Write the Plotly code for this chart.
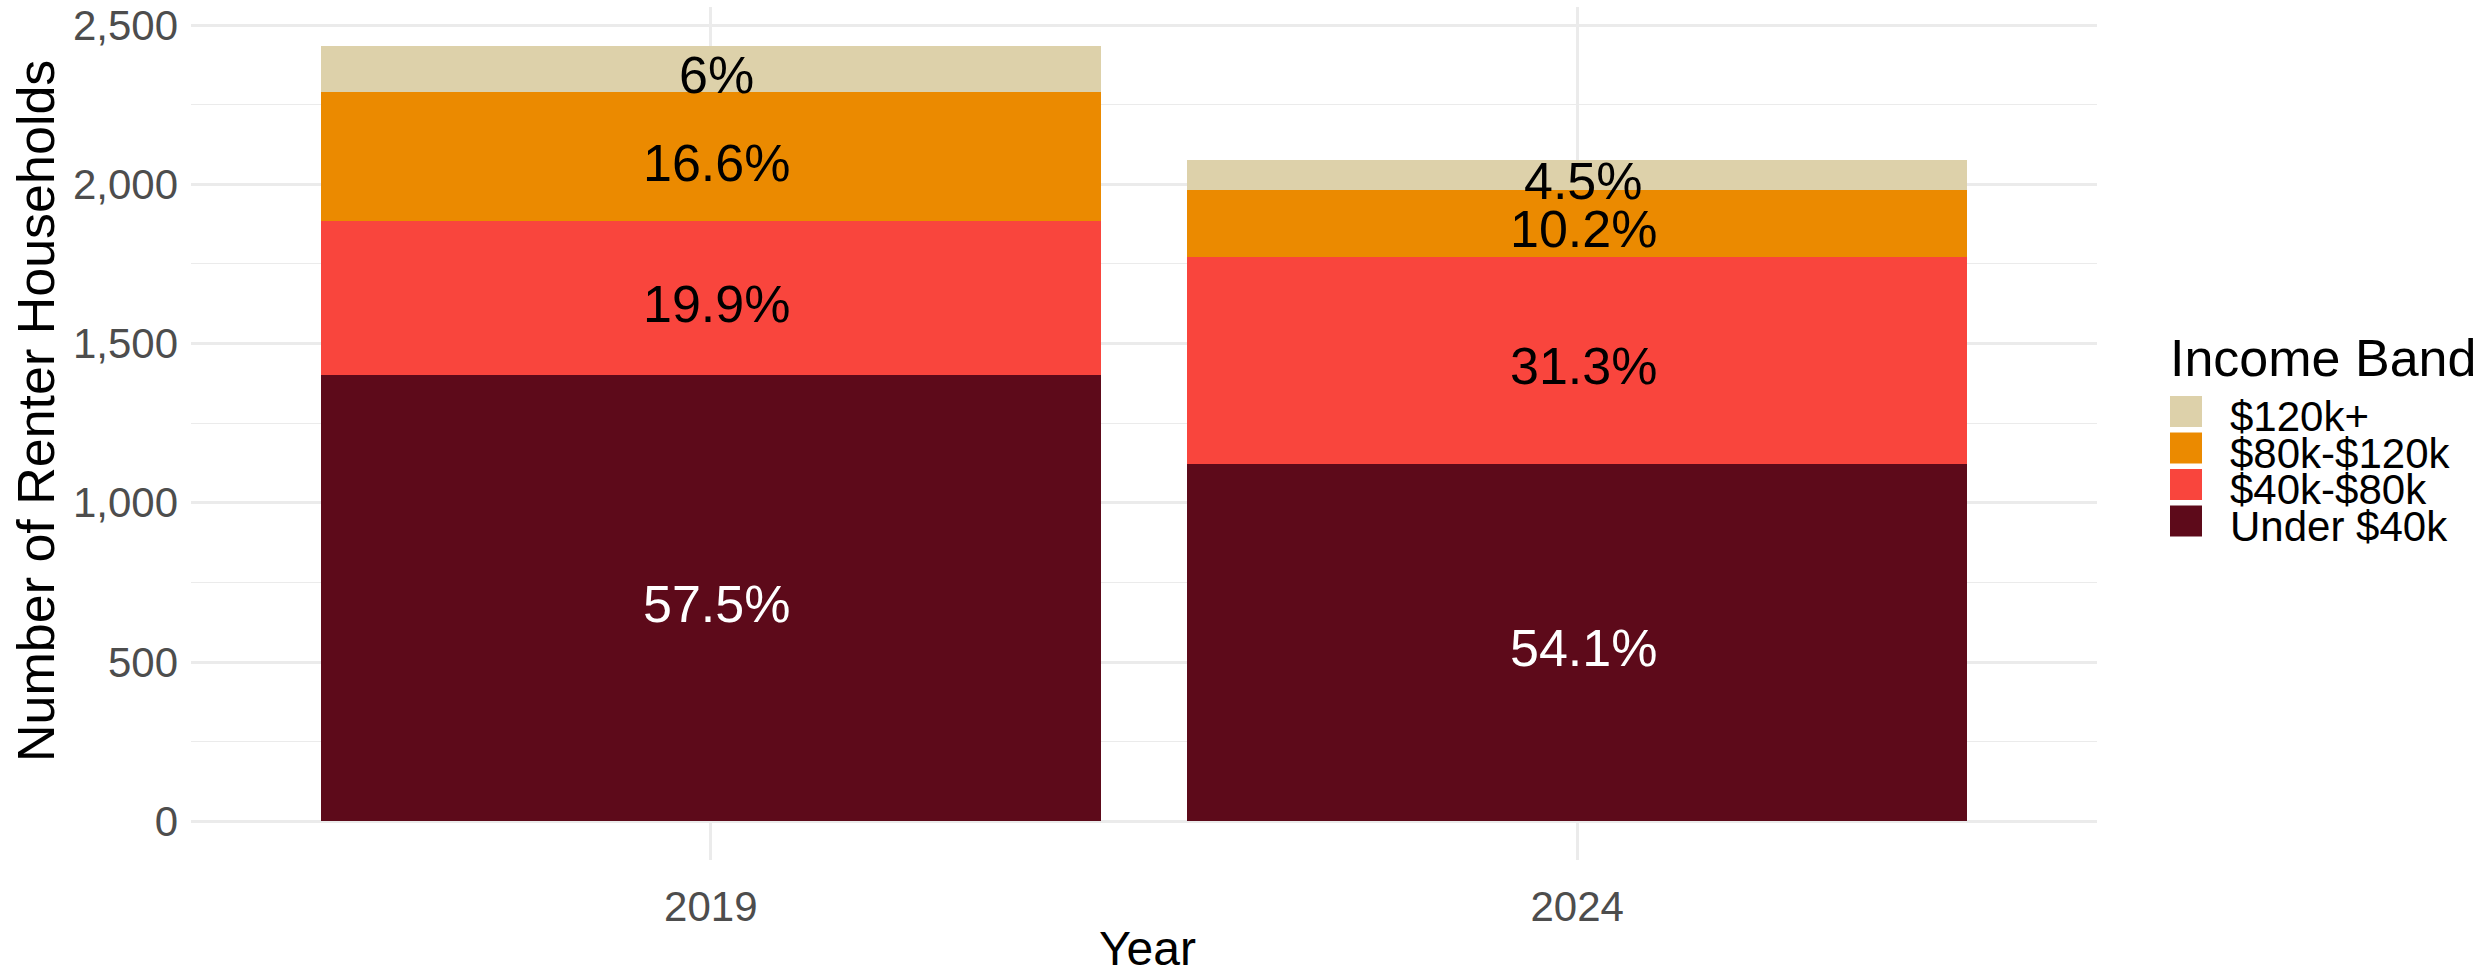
import plotly.graph_objects as go

# ---- data ----
years = ["2019", "2024"]
bands = ["Under $40k", "$40k-$80k", "$80k-$120k", "$120k+"]
under_40k = [1400, 1123]
band_40_80k = [485, 649]
band_80_120k = [404, 211]
band_120k_plus = [146, 93]
y_tick_vals = [0, 500, 1000, 1500, 2000, 2500]
legend_order = ["$120k+", "$80k-$120k", "$40k-$80k", "Under $40k"]

# ---- styles ----
band_colors = {
    "Under $40k": "#5D0A1A",
    "$40k-$80k": "#F9453D",
    "$80k-$120k": "#EB8A00",
    "$120k+": "#DDD1AA",
}
label_colors = {
    "Under $40k": "white",
    "$40k-$80k": "black",
    "$80k-$120k": "black",
    "$120k+": "black",
}
FONT = "Liberation Sans, Arial, sans-serif"
W, H = 2491, 974
L, R, T, B = 191, 2097, 7, 860

series = dict(zip(bands, [under_40k, band_40_80k, band_80_120k, band_120k_plus]))
totals = [sum(series[b][i] for b in bands) for i in range(len(years))]


def pct_label(v, t):
    s = f"{round(v / t * 100, 1):.1f}"
    if s.endswith(".0"):
        s = s[:-2]
    return s + "%"


def px_x(px):
    return (px - L) / (R - L)


def px_y(py):
    return (B - py) / (B - T)


fig = go.Figure()
annotations = []
bottoms = [0] * len(years)
for band in bands:
    vals = series[band]
    fig.add_trace(go.Bar(
        x=years, y=vals, name=band, width=0.9,
        marker=dict(color=band_colors[band], line=dict(width=0)),
        showlegend=False, hoverinfo="skip",
    ))
    for i, yr in enumerate(years):
        annotations.append(dict(
            x=i, y=bottoms[i] + vals[i] / 2, xref="x", yref="y",
            text=pct_label(vals[i], totals[i]), showarrow=False,
            font=dict(family=FONT, size=52, color=label_colors[band]),
            xanchor="center", yanchor="middle", yshift=-6, xshift=6,
        ))
        bottoms[i] += vals[i]

# axis titles
annotations.append(dict(
    x=px_x(1147), y=px_y(948), xref="paper", yref="paper", text="Year",
    showarrow=False, font=dict(family=FONT, size=48, color="black"),
    xanchor="center", yanchor="middle",
))
annotations.append(dict(
    x=px_x(36), y=px_y(411), xref="paper", yref="paper",
    text="Number of Renter Households", textangle=-90,
    showarrow=False, font=dict(family=FONT, size=52, color="black"),
    xanchor="center", yanchor="middle",
))

# legend (drawn manually to match square swatches)
annotations.append(dict(
    x=px_x(2168), y=px_y(358), xref="paper", yref="paper", text="Income Band",
    showarrow=False, font=dict(family=FONT, size=52, color="black"),
    xanchor="left", yanchor="middle",
))
shapes = []
centers = [411.5, 448, 484.5, 521]
for band, cy in zip(legend_order, centers):
    shapes.append(dict(
        type="rect", xref="paper", yref="paper",
        x0=px_x(2170), x1=px_x(2202), y0=px_y(cy + 15.5), y1=px_y(cy - 15.5),
        fillcolor=band_colors[band], line=dict(width=0),
    ))
    annotations.append(dict(
        x=px_x(2228), y=px_y(cy + 5), xref="paper", yref="paper", text=band,
        showarrow=False, font=dict(family=FONT, size=42, color="black"),
        xanchor="left", yanchor="middle",
    ))

ymax = max(totals)
fig.update_layout(
    width=W, height=H,
    barmode="stack",
    plot_bgcolor="white", paper_bgcolor="white",
    margin=dict(l=L, r=W - R, t=T, b=H - B, autoexpand=False),
    font=dict(family=FONT),
    annotations=annotations,
    shapes=shapes,
    showlegend=False,
    xaxis=dict(
        type="category", categoryorder="array", categoryarray=years,
        range=[-0.6, len(years) - 1 + 0.6],
        showgrid=True, gridcolor="#EBEBEB", gridwidth=2.6,
        zeroline=False, showline=False, ticks="",
        tickfont=dict(family=FONT, size=42, color="#4D4D4D"),
        ticklabelstandoff=18,
    ),
    yaxis=dict(
        range=[-0.05 * ymax, ymax * 1.05],
        tickvals=y_tick_vals, tickformat=",",
        showgrid=True, gridcolor="#EBEBEB", gridwidth=2.6,
        minor=dict(dtick=250, showgrid=True, gridcolor="#EBEBEB", gridwidth=1.3),
        zeroline=False, showline=False, ticks="",
        tickfont=dict(family=FONT, size=42, color="#4D4D4D"),
        ticklabelstandoff=12,
    ),
)

fig.write_html(
    "out.html",
    config={"displayModeBar": False},
    post_script="document.body.style.margin='0';document.body.style.overflow='hidden';",
)
